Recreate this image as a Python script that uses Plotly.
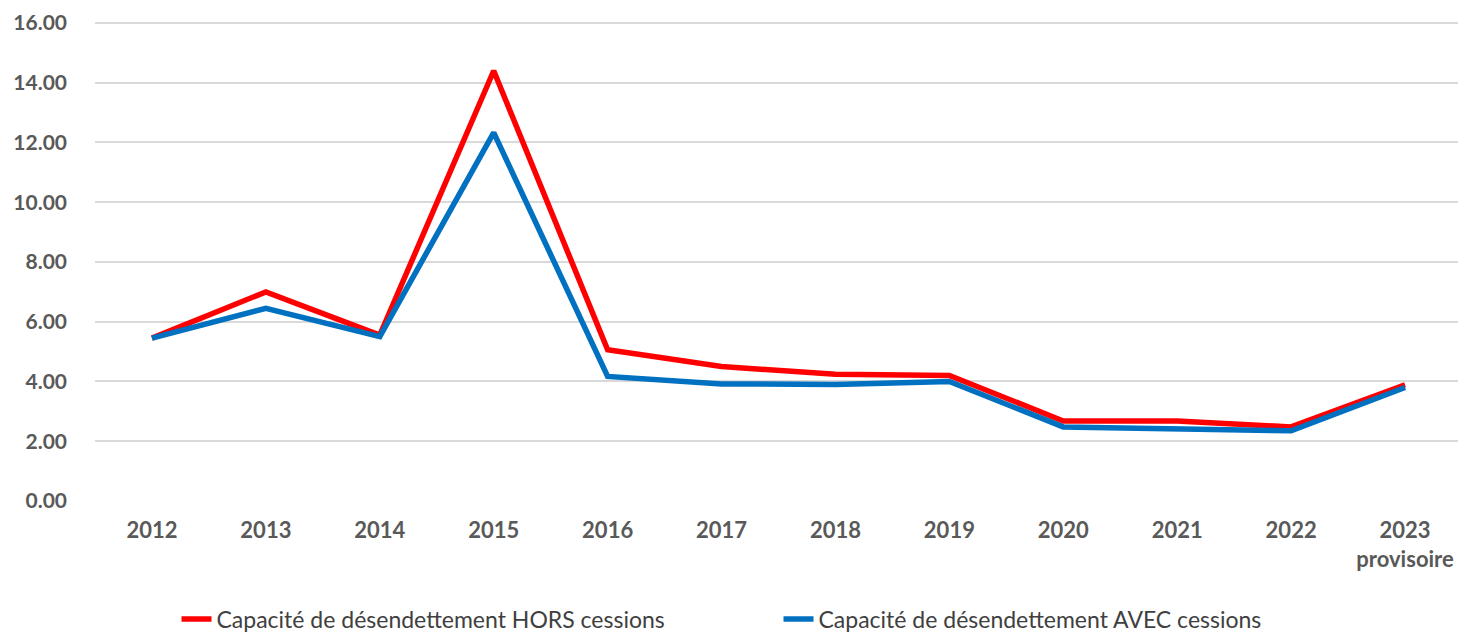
import plotly.graph_objects as go

years = ["2012", "2013", "2014", "2015", "2016", "2017", "2018", "2019", "2020", "2021", "2022", "2023"]
year_labels = ["2012", "2013", "2014", "2015", "2016", "2017", "2018", "2019", "2020", "2021", "2022", "2023<br>provisoire"]
hors_cessions = [5.45, 7.0, 5.55, 14.4, 5.06, 4.5, 4.24, 4.2, 2.68, 2.68, 2.48, 3.89]
avec_cessions = [5.45, 6.45, 5.5, 12.33, 4.17, 3.92, 3.9, 4.0, 2.48, 2.42, 2.35, 3.8]
y_ticks = [0, 2, 4, 6, 8, 10, 12, 14, 16]

name_hors = "Capacité de désendettement HORS cessions"
name_avec = "Capacité de désendettement AVEC cessions"

font_family = "Lato, Roboto, sans-serif"

fig = go.Figure()
fig.add_trace(go.Scatter(x=years, y=hors_cessions, mode="lines", name=name_hors,
                         line=dict(color="#ff0000", width=5.5)))
fig.add_trace(go.Scatter(x=years, y=avec_cessions, mode="lines", name=name_avec,
                         line=dict(color="#0070c0", width=5.5)))

fig.update_layout(
    width=1466, height=641,
    margin=dict(l=87, r=12, t=9, b=148),
    paper_bgcolor="white", plot_bgcolor="white",
    font=dict(family=font_family, color="#595959"),
    showlegend=True,
    legend=dict(orientation="h", x=0.5, xanchor="center", y=-0.244, yanchor="middle",
                font=dict(size=23, color="#404040"), entrywidth=557, entrywidthmode="pixels",
                traceorder="normal"),
    xaxis=dict(type="category", tickvals=years, ticktext=year_labels, range=[-0.5, 11.5],
               showgrid=False, showline=False, zeroline=False, ticks="", ticklabelstandoff=14,
               tickfont=dict(size=22, family=font_family, color="#595959", weight="bold")),
    yaxis=dict(range=[0, 16.2], tickvals=y_ticks, tickformat=".2f", automargin=False,
               showgrid=True, gridcolor="#d9d9d9", ticklabeloverflow="allow",
               gridwidth=1.5, zeroline=False, showline=False, ticks="", ticklabelstandoff=27,
               tickfont=dict(size=21, family=font_family, color="#595959", weight="bold")),
)

fig.write_html("out.html")
